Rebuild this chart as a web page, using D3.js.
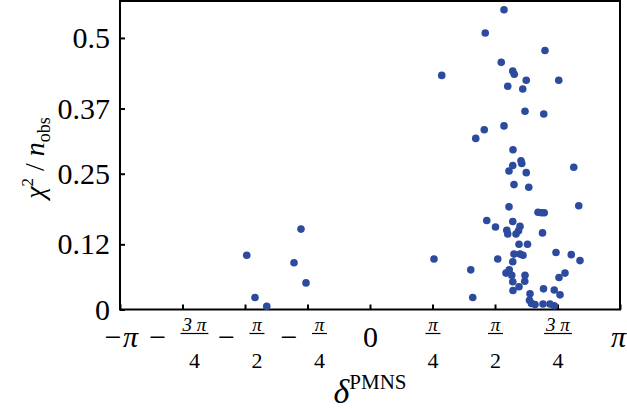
<!DOCTYPE html>
<html>
<head>
<meta charset="utf-8">
<script src="https://cdn.jsdelivr.net/npm/d3@7"></script>
<style>
  body { margin: 0; background: #fff; }
  svg { display: block; }
  svg text { font-family: "Liberation Serif", "DejaVu Serif", serif; }
</style>
</head>
<body>
<div id="chart"></div>
<script>
// Puntos del scan: delta en unidades de pi y chi2 / n_obs
const deltaOverPi = [
  -0.493, -0.460, -0.413, -0.276, -0.304, -0.256, 0.256, 0.287,
  0.536, 0.461, 0.700, 0.525, 0.571, 0.577, 0.625, 0.755,
  0.551, 0.611, 0.620, 0.695, 0.536, 0.457, 0.423, 0.572,
  0.604, 0.607, 0.571, 0.556, 0.625, 0.815, 0.576, 0.635,
  0.556, 0.835, 0.672, 0.686, 0.697, 0.467, 0.571, 0.502,
  0.600, 0.547, 0.551, 0.594, 0.584, 0.690, 0.596, 0.630,
  0.511, 0.576, 0.600, 0.612, 0.571, 0.744, 0.805, 0.840,
  0.403, 0.557, 0.544, 0.567, 0.620, 0.619, 0.780, 0.756,
  0.571, 0.596, 0.572, 0.694, 0.737, 0.640, 0.760, 0.411,
  0.638, 0.646, 0.660, 0.692, 0.720, 0.737
];
const chi2PerObs = [
  0.100, 0.022, 0.006, 0.148, 0.086, 0.049, 0.093, 0.431,
  0.552, 0.509, 0.477, 0.455, 0.439, 0.433, 0.422, 0.422,
  0.411, 0.406, 0.365, 0.360, 0.338, 0.331, 0.315, 0.294,
  0.274, 0.269, 0.265, 0.255, 0.252, 0.262, 0.230, 0.225,
  0.189, 0.191, 0.179, 0.178, 0.178, 0.164, 0.162, 0.152,
  0.153, 0.146, 0.139, 0.145, 0.139, 0.141, 0.120, 0.120,
  0.093, 0.102, 0.102, 0.100, 0.088, 0.105, 0.101, 0.090,
  0.073, 0.073, 0.067, 0.063, 0.063, 0.052, 0.067, 0.059,
  0.051, 0.042, 0.035, 0.038, 0.036, 0.029, 0.027, 0.022,
  0.017, 0.011, 0.009, 0.010, 0.010, 0.007
];

// Ticks
const yTickValues = [0, 0.12, 0.25, 0.37, 0.5];
const yTickLabels = ['0', '0.12', '0.25', '0.37', '0.5'];
const xTickValues = [-1, -0.75, -0.5, -0.25, 0, 0.25, 0.5, 0.75, 1];
const xTickSign = ['−', '−', '−', '−', '', '', '', '', ''];
const xTickNum = ['π', '3 π', 'π', 'π', '0', 'π', 'π', '3 π', 'π'];
const xTickDen = ['', '4', '2', '4', '', '4', '2', '4', ''];

const data = deltaOverPi.map((d, i) => ({ delta: d, chi: chi2PerObs[i] }));

let margin = {top: 1, right: 7, bottom: 99.5, left: 120},
    width = 627 - margin.left - margin.right,
    height = 409 - margin.top - margin.bottom;

let svg = d3.select('#chart')
    .append('svg')
      .attr('width', 627)
      .attr('height', 409)
    .append('g')
      .attr('transform', 'translate(' + margin.left + ',' + margin.top + ')');

let x = d3.scaleLinear().domain([-1, 1]).range([0, width]);
let y = d3.scaleLinear().domain([0, 0.568]).range([height, 0]);

//Eje Y
let yAxis = svg.append('g')
    .call(d3.axisLeft(y).tickValues(yTickValues).tickSize(-5).tickPadding(10)
        .tickFormat((d, i) => yTickLabels[i]));
yAxis.attr('font-family', null).attr('font-size', null);
yAxis.select('.domain').remove();
yAxis.selectAll('.tick line').attr('stroke', '#000').attr('stroke-width', 2);
yAxis.selectAll('.tick text')
    .attr('font-size', 30)
    .attr('fill', '#000');

//Eje X
let xAxis = svg.append('g')
    .attr('transform', 'translate(0,' + height + ')')
    .call(d3.axisBottom(x).tickValues(xTickValues).tickSize(-5).tickFormat(''));
xAxis.attr('font-family', null).attr('font-size', null);
xAxis.select('.domain').remove();
xAxis.selectAll('.tick line').attr('stroke', '#000').attr('stroke-width', 2);
xAxis.selectAll('.tick text').remove();

xAxis.selectAll('.tick').each(function(d, i) {
    let g = d3.select(this);
    if (xTickDen[i] === '') {
        g.append('text')
            .attr('x', i === xTickValues.length - 1 ? -2 : 0)
            .attr('y', 37)
            .attr('text-anchor', 'middle')
            .attr('font-size', 30)
            .attr('font-style', xTickNum[i] === '0' ? 'normal' : 'italic')
            .attr('fill', '#000')
            .text(xTickSign[i] + xTickNum[i]);
        return;
    }
    let lab = g.append('g');
    let mw = 0;
    let minus = null;
    if (xTickSign[i]) {
        minus = lab.append('text')
            .attr('y', 37)
            .attr('font-size', 30)
            .attr('fill', '#000')
            .text(xTickSign[i]);
        mw = minus.node().getComputedTextLength() + 6;
    }
    let num = lab.append('text')
        .attr('y', 21)
        .attr('text-anchor', 'middle')
        .attr('font-size', 19)
        .attr('font-style', 'italic')
        .attr('fill', '#000')
        .text(xTickNum[i]);
    let den = lab.append('text')
        .attr('y', 58)
        .attr('text-anchor', 'middle')
        .attr('font-size', 22)
        .attr('fill', '#000')
        .text(xTickDen[i]);
    let fw = Math.max(num.node().getComputedTextLength(), den.node().getComputedTextLength()) + 4;
    let total = mw + fw;
    let x0 = -total / 2;
    if (minus) minus.attr('x', x0);
    let cx = x0 + mw + fw / 2;
    num.attr('x', cx);
    den.attr('x', cx);
    lab.append('line')
        .attr('x1', cx - fw / 2).attr('x2', cx + fw / 2)
        .attr('y1', 24).attr('y2', 24)
        .attr('stroke', '#000').attr('stroke-width', 1.2);
});

//Marco
svg.append('rect')
    .attr('x', 0).attr('y', 0)
    .attr('width', width).attr('height', height)
    .attr('fill', 'none')
    .attr('stroke', '#000')
    .attr('stroke-width', 2);

//Puntos
svg.append('g')
    .selectAll('circle')
    .data(data)
    .enter()
    .append('circle')
    .attr('cx', d => x(d.delta))
    .attr('cy', d => y(d.chi))
    .attr('r', 3.8)
    .attr('fill', '#2d4b9e');

//Titulos de ejes
let yTitle = d3.select('svg').append('text')
    .attr('transform', 'translate(44,158) rotate(-90)')
    .attr('text-anchor', 'middle')
    .attr('font-size', 28)
    .attr('fill', '#000');
yTitle.append('tspan').attr('font-style', 'italic').text('χ');
yTitle.append('tspan').attr('font-size', 17).attr('dy', -11).text('2');
yTitle.append('tspan').attr('dy', 11).text(' / ');
yTitle.append('tspan').attr('font-style', 'italic').text('n');
yTitle.append('tspan').attr('font-size', 18).attr('dy', 6).text('obs');

let xTitle = d3.select('svg').append('text')
    .attr('x', 370)
    .attr('y', 403)
    .attr('text-anchor', 'middle')
    .attr('fill', '#000');
xTitle.append('tspan').attr('font-size', 34).attr('font-style', 'italic').text('δ');
xTitle.append('tspan').attr('font-size', 21).attr('dy', -14).text('PMNS');
</script>
</body>
</html>
